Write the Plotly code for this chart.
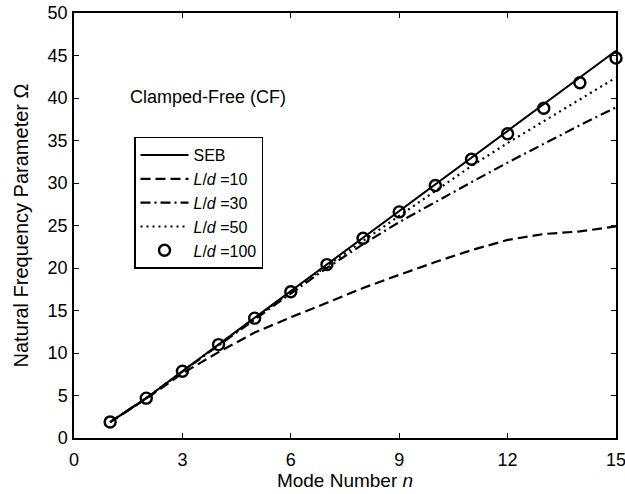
import plotly.graph_objects as go

modes = list(range(1, 16))
seb = [1.875, 4.694, 7.855, 10.996, 14.137, 17.279, 20.420, 23.562, 26.704, 29.845,
       32.987, 36.128, 39.270, 42.412, 45.553]
ld10 = [1.87, 4.62, 7.6, 10.1, 12.4, 14.2, 15.9, 17.65, 19.2, 20.7, 22.1, 23.3, 24.0, 24.3, 24.9]
ld30 = [1.875, 4.69, 7.82, 10.9, 13.95, 17.0, 20.0, 22.8, 25.4, 27.8, 30.1, 32.4, 34.6, 36.8, 38.9]
ld50 = [1.875, 4.69, 7.85, 10.98, 14.1, 17.2, 20.25, 23.2, 26.1, 29.1, 32.0, 34.7, 37.3, 39.85, 42.4]
ld100 = [1.875, 4.69, 7.85, 10.99, 14.1, 17.2, 20.4, 23.5, 26.6, 29.7, 32.8, 35.8, 38.8, 41.8, 44.7]

xticks = [0, 3, 6, 9, 12, 15]
yticks = [0, 5, 10, 15, 20, 25, 30, 35, 40, 45, 50]

FONT = "Liberation Sans, Arial, sans-serif"
fig = go.Figure()
fig.add_trace(go.Scatter(x=modes, y=seb, mode="lines", name="SEB",
                         line=dict(color="black", width=2)))
fig.add_trace(go.Scatter(x=modes, y=ld10, mode="lines", name="<i>L</i>/<i>d</i> =10",
                         line=dict(color="black", width=2.2, dash="10px,5px")))
fig.add_trace(go.Scatter(x=modes, y=ld30, mode="lines", name="<i>L</i>/<i>d</i> =30",
                         line=dict(color="black", width=2.2, dash="10px,4px,2px,4px")))
fig.add_trace(go.Scatter(x=modes, y=ld50, mode="lines", name="<i>L</i>/<i>d</i> =50",
                         line=dict(color="black", width=2.2, dash="2px,4px")))
fig.add_trace(go.Scatter(x=modes, y=ld100, mode="markers", name="<i>L</i>/<i>d</i> =100",
                         cliponaxis=False,
                         marker=dict(symbol="circle-open", size=11, color="black",
                                     line=dict(width=2.4, color="black"))))

axis_common = dict(showline=True, linecolor="black", linewidth=1.5, mirror="ticks",
                   ticks="inside", ticklen=5, tickwidth=1, tickcolor="black",
                   showgrid=False, zeroline=False, automargin=False,
                   ticklabeloverflow="allow",
                   tickfont=dict(size=18, color="black", family=FONT))
fig.update_xaxes(range=[0, 15], tickvals=xticks, ticklabelstandoff=5, **axis_common,
                 title=dict(text="Mode Number <i>n</i>", font=dict(size=19, family=FONT, color="black"),
                            standoff=0))
fig.update_yaxes(range=[0, 50], tickvals=yticks, ticklabelstandoff=1, **axis_common,
                 title=dict(text="Natural Frequency Parameter Ω", font=dict(size=20, family=FONT, color="black"),
                            standoff=14))

fig.add_annotation(x=1.5, y=40.1, xref="x", yref="y", text="Clamped-Free (CF)",
                   showarrow=False, xanchor="left", yanchor="middle",
                   font=dict(size=18, family=FONT, color="black"))

fig.update_layout(
    width=625, height=494,
    margin=dict(l=74, r=9, t=13, b=56),
    paper_bgcolor="white", plot_bgcolor="white",
    font=dict(family=FONT, color="black"),
    legend=dict(x=60 / 542, y=(438 - 136.7) / 425, xanchor="left", yanchor="top",
                bordercolor="black", borderwidth=1.5, bgcolor="white",
                font=dict(size=16, family=FONT, color="black"),
                tracegroupgap=0, itemwidth=48),
)

fig.write_html("out.html", config={"displayModeBar": False},
               post_script="document.body.style.margin='0';document.body.style.overflow='hidden';")
